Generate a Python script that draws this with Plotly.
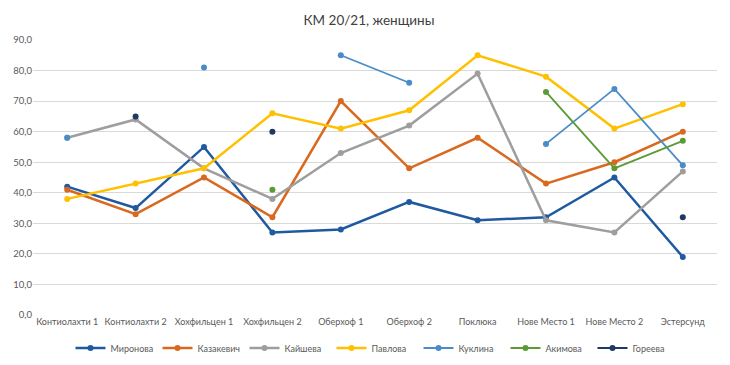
import plotly.graph_objects as go

categories = ["Контиолахти 1", "Контиолахти 2", "Хохфильцен 1", "Хохфильцен 2", "Оберхоф 1",
              "Оберхоф 2", "Поклюка", "Нове Место 1", "Нове Место 2", "Эстерсунд"]

mironova = [42, 35, 55, 27, 28, 37, 31, 32, 45, 19]
kazakevich = [41, 33, 45, 32, 70, 48, 58, 43, 50, 60]
kaysheva = [58, 64, 48, 38, 53, 62, 79, 31, 27, 47]
pavlova = [38, 43, 48, 66, 61, 67, 85, 78, 61, 69]
kuklina = [58, None, 81, None, 85, 76, None, 56, 74, 49]
akimova = [None, None, None, 41, None, None, None, 73, 48, 57]
goreeva = [None, 65, None, 60, None, None, None, None, None, 32]

y_ticks = [0, 10, 20, 30, 40, 50, 60, 70, 80, 90]
y_ticktext = ["0,0", "10,0", "20,0", "30,0", "40,0", "50,0", "60,0", "70,0", "80,0", "90,0"]

series = [
    ("Миронова", mironova, "#1F5AA0", 2.5),
    ("Казакевич", kazakevich, "#D9691F", 2.5),
    ("Кайшева", kaysheva, "#9E9E9E", 2.5),
    ("Павлова", pavlova, "#FFC000", 2.5),
    ("Куклина", kuklina, "#4A8CC8", 1.8),
    ("Акимова", akimova, "#5B9B35", 1.8),
    ("Гореева", goreeva, "#1F3864", 1.8),
]

fig = go.Figure()
for name, vals, color, w in series:
    fig.add_trace(go.Scatter(
        x=categories, y=vals, name=name, mode="lines+markers",
        connectgaps=False,
        line=dict(color=color, width=w),
        marker=dict(color=color, size=6),
    ))

FONT = "Lato"
# page body has an 8px default margin, so the figure is sized 8px smaller
fig.update_layout(
    width=722, height=357,
    paper_bgcolor="white", plot_bgcolor="white",
    margin=dict(l=25, r=13, t=32, b=50, autoexpand=False),
    title=dict(text="КМ 20/21, женщины", x=0.5, xanchor="center",
               y=1 - 12 / 357, yanchor="middle", yref="container",
               font=dict(family=FONT, size=13.5, color="#404040")),
    font=dict(family=FONT, size=10, color="#595959"),
    showlegend=True,
    legend=dict(orientation="h", x=0.5, xanchor="center", y=-0.12, yanchor="middle",
                font=dict(family=FONT, size=9, color="#595959"),
                entrywidth=42, entrywidthmode="pixels", tracegroupgap=0),
    xaxis=dict(type="category", range=[-0.5, 9.5], showgrid=False, showline=False,
               ticks="", tickangle=0, automargin=False,
               tickfont=dict(family=FONT, size=9, color="#595959")),
    yaxis=dict(range=[0, 90], tickvals=y_ticks, ticktext=y_ticktext, showgrid=True,
               gridcolor="#D9D9D9", gridwidth=1, zeroline=False, showline=False,
               automargin=False,
               tickfont=dict(family=FONT, size=9.5, color="#595959"), ticks=""),
)

fig.write_html("out.html")
